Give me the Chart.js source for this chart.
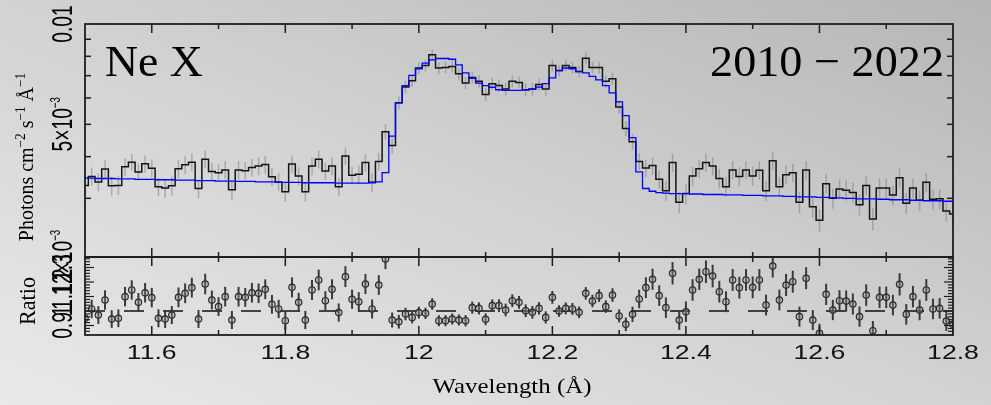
<!DOCTYPE html>
<html><head><meta charset="utf-8">
<script src="https://cdn.jsdelivr.net/npm/chart.js@4.4.1/dist/chart.umd.min.js"></script>
<style>
html,body{margin:0;padding:0;background:#d0d0d0;}
#wrap{position:relative;width:991px;height:405px;overflow:hidden;
 background:linear-gradient(to top right,#e9e9e9 0%,#d2d2d2 50%,#b5b5b5 100%);}
canvas{position:absolute;left:0;top:0;}
</style></head><body>
<div id="wrap"><canvas id="top" width="991" height="405"></canvas><canvas id="bot" width="991" height="405"></canvas></div>
<script>
// ---- data (flux in units of 1e-3 photons cm^-2 s^-1 A^-1) ----
const binStart = 11.50, binWidth = 0.01, nBins = 131;
const wavelengths = [];
for (let i = 0; i < nBins; i++) wavelengths.push(+(binStart + i * binWidth).toFixed(2));

const flux = [
 3.28,3.49,3.36,3.67,3.27,3.28,3.73,3.85,3.60,3.81,
 3.69,3.25,3.22,3.27,3.68,3.78,3.85,3.21,3.93,3.61,
 3.58,3.65,3.18,3.65,3.63,3.71,3.75,3.79,3.48,3.36,
 3.14,3.80,3.50,3.14,3.75,3.93,3.62,3.75,3.25,4.02,
 3.52,3.54,3.84,3.35,3.87,4.75,4.32,5.80,6.47,6.76,
 7.38,7.51,8.08,7.38,7.41,7.46,7.09,6.65,6.91,6.73,
 6.14,6.62,6.54,6.38,6.73,6.68,6.35,6.38,6.58,6.38,
 7.51,7.25,7.51,7.41,7.20,7.90,7.41,7.41,6.73,6.85,
 5.64,4.86,4.43,3.87,3.70,3.76,3.42,3.16,3.84,2.92,
 3.10,3.50,3.68,3.84,3.75,3.44,3.25,3.65,3.49,3.65,
 3.50,3.64,3.16,3.89,3.25,3.53,3.58,2.92,3.65,2.83,
 2.58,3.32,3.00,3.20,3.17,3.12,2.87,3.28,2.60,3.22,
 3.22,3.07,3.46,2.90,3.22,2.96,3.35,2.98,2.99,2.75,
 2.69];
const fluxErr = [
 0.22,0.22,0.21,0.23,0.21,0.21,0.23,0.23,0.22,0.23,
 0.23,0.21,0.21,0.21,0.23,0.23,0.23,0.21,0.24,0.22,
 0.22,0.23,0.21,0.23,0.22,0.23,0.23,0.23,0.22,0.21,
 0.21,0.23,0.22,0.21,0.23,0.24,0.22,0.23,0.21,0.24,
 0.22,0.22,0.23,0.22,0.23,0.25,0.24,0.27,0.28,0.29,
 0.30,0.30,0.31,0.30,0.30,0.30,0.29,0.28,0.29,0.28,
 0.27,0.28,0.28,0.28,0.28,0.28,0.28,0.28,0.28,0.28,
 0.30,0.29,0.30,0.30,0.29,0.31,0.30,0.30,0.28,0.29,
 0.26,0.25,0.24,0.23,0.23,0.23,0.22,0.22,0.24,0.21,
 0.22,0.23,0.23,0.24,0.24,0.23,0.22,0.23,0.23,0.23,
 0.23,0.23,0.22,0.24,0.22,0.23,0.23,0.21,0.23,0.21,
 0.20,0.22,0.21,0.22,0.22,0.22,0.21,0.22,0.20,0.22,
 0.22,0.21,0.23,0.21,0.22,0.21,0.22,0.21,0.21,0.20,
 0.20];
const model = [
 3.45,3.45,3.44,3.44,3.44,3.43,3.43,3.43,3.42,3.42,
 3.42,3.41,3.41,3.41,3.40,3.40,3.40,3.39,3.39,3.39,
 3.38,3.38,3.38,3.37,3.37,3.37,3.36,3.36,3.36,3.35,
 3.35,3.35,3.35,3.34,3.34,3.34,3.34,3.34,3.33,3.33,
 3.33,3.33,3.33,3.34,3.36,3.58,4.61,5.80,6.53,7.01,
 7.34,7.63,7.81,7.88,7.88,7.84,7.54,7.13,6.87,6.65,
 6.53,6.46,6.35,6.32,6.32,6.32,6.35,6.38,6.47,6.62,
 6.89,7.25,7.38,7.34,7.20,7.13,6.96,6.80,6.53,6.21,
 5.84,5.31,4.56,3.60,3.21,3.15,3.12,3.11,3.10,3.10,
 3.10,3.09,3.09,3.08,3.08,3.08,3.07,3.07,3.07,3.06,
 3.06,3.06,3.05,3.05,3.05,3.04,3.04,3.03,3.03,3.03,
 3.02,3.02,3.01,3.01,3.00,3.00,2.99,2.99,2.99,2.98,
 2.98,2.97,2.97,2.97,2.96,2.96,2.95,2.95,2.95,2.94,
 2.94];
const ratio = [
 0.950,1.014,0.972,1.076,0.945,0.950,1.099,1.145,1.060,1.126,
 1.092,0.950,0.945,0.972,1.094,1.122,1.161,0.945,1.186,1.076,
 1.030,1.099,0.938,1.099,1.094,1.126,1.122,1.150,1.046,1.014,
 0.933,1.163,1.060,0.938,1.145,1.214,1.071,1.150,0.989,1.237,
 1.081,1.064,1.186,1.014,1.179,1.359,0.938,0.926,0.979,0.956,
 0.989,0.984,1.048,0.933,0.933,0.945,0.938,0.933,1.023,1.018,
 0.943,1.037,1.037,1.007,1.071,1.060,1.002,0.991,1.018,0.956,
 1.094,1.000,1.018,1.014,0.991,1.122,1.069,1.106,1.030,1.110,
 0.966,0.908,0.977,1.083,1.161,1.219,1.106,1.023,1.260,0.938,
 0.995,1.145,1.219,1.271,1.241,1.133,1.064,1.214,1.161,1.214,
 1.163,1.214,1.041,1.310,1.076,1.179,1.202,0.961,1.226,0.938,
 0.846,1.115,1.007,1.071,1.069,1.048,0.961,1.110,0.864,1.094,
 1.094,1.041,1.184,0.977,1.099,1.007,1.145,1.014,1.018,0.931,
 0.908];
const ratioErr = [
 0.064,0.064,0.061,0.067,0.061,0.061,0.067,0.067,0.064,0.067,
 0.067,0.062,0.062,0.062,0.068,0.068,0.068,0.062,0.071,0.065,
 0.065,0.068,0.062,0.068,0.065,0.068,0.068,0.068,0.065,0.063,
 0.063,0.069,0.066,0.063,0.069,0.072,0.066,0.069,0.063,0.072,
 0.066,0.066,0.069,0.066,0.068,0.070,0.052,0.047,0.043,0.041,
 0.041,0.039,0.040,0.038,0.038,0.038,0.038,0.039,0.042,0.042,
 0.041,0.043,0.044,0.044,0.044,0.044,0.044,0.044,0.043,0.042,
 0.044,0.040,0.041,0.041,0.040,0.043,0.043,0.044,0.043,0.047,
 0.045,0.047,0.053,0.064,0.072,0.073,0.071,0.071,0.077,0.068,
 0.071,0.074,0.074,0.078,0.078,0.075,0.072,0.075,0.075,0.075,
 0.075,0.075,0.072,0.079,0.072,0.076,0.076,0.069,0.076,0.069,
 0.066,0.073,0.070,0.073,0.073,0.073,0.070,0.074,0.067,0.074,
 0.074,0.071,0.077,0.071,0.074,0.071,0.075,0.071,0.071,0.068,
 0.068];

// axis ticks / labels
const xTickValues = [11.5,11.6,11.7,11.8,11.9,12.0,12.1,12.2,12.3,12.4,12.5,12.6,12.7,12.8];
const xTickLabels = [['11.6',11.6],['11.8',11.8],['12',12.0],['12.2',12.2],['12.4',12.4],['12.6',12.6],['12.8',12.8]];
const yFluxMinor = [3,4,5,6,7,8,9];
const ratioLabels = [['0.9',0.9],['1',1.0],['1.1',1.1],['1.2',1.2],['1.3',1.3]];

// ---- drawing helpers ----
const SANS = '"Liberation Sans", Arial, sans-serif';
const SERIF = '"Liberation Serif", "Times New Roman", serif';

function richWidth(ctx, parts) {
  let w = 0;
  for (const p of parts) { ctx.font = p.f; w += ctx.measureText(p.t).width; }
  return w;
}
function drawRich(ctx, parts, x0) {
  let x = x0;
  for (const p of parts) {
    ctx.font = p.f;
    ctx.fillText(p.t, x, p.dy || 0);
    x += ctx.measureText(p.t).width;
  }
}
// rotated (-90deg) rich text centered at screen y = cy, baseline at screen x = bx, stretched along reading by s
function rotRich(ctx, parts, bx, cy, s) {
  ctx.save();
  ctx.translate(bx, cy);
  ctx.rotate(-Math.PI / 2);
  ctx.scale(s, 1);
  ctx.textAlign = 'left';
  ctx.textBaseline = 'alphabetic';
  const w = richWidth(ctx, parts);
  drawRich(ctx, parts, -w / 2);
  ctx.restore();
}
function hText(ctx, s, x, y, font, align, sx) {
  ctx.save();
  ctx.translate(x, y);
  ctx.scale(sx, 1);
  ctx.font = font;
  ctx.textAlign = align;
  ctx.textBaseline = 'alphabetic';
  ctx.fillText(s, 0, 0);
  ctx.restore();
}
function line(ctx, x1, y1, x2, y2) {
  ctx.beginPath(); ctx.moveTo(x1, y1); ctx.lineTo(x2, y2); ctx.stroke();
}
function xTicks(ctx, xs, a, yEdge, dir) {
  for (const v of xTickValues) {
    const px = xs.getPixelForValue(v);
    if (px <= a.left + 1 || px >= a.right - 1) continue;
    const major = Math.abs(Math.round(v * 10) % 2) === 0;
    const len = major ? 9 : 5;
    line(ctx, px, yEdge, px, yEdge + dir * len);
  }
}

// ---- top panel plugin ----
const topDeco = {
  id: 'topDeco',
  beforeDatasetsDraw(chart) {
    const {ctx, chartArea: a, scales: {x, y}} = chart;
    ctx.save();
    ctx.beginPath(); ctx.rect(a.left, a.top, a.right - a.left, a.bottom - a.top); ctx.clip();
    ctx.strokeStyle = 'rgba(125,125,125,0.5)';
    ctx.lineWidth = 1.5;
    for (let i = 0; i < nBins; i++) {
      const px = x.getPixelForValue(wavelengths[i]);
      line(ctx, px, y.getPixelForValue(flux[i] - fluxErr[i]), px, y.getPixelForValue(flux[i] + fluxErr[i]));
    }
    ctx.restore();
  },
  afterDraw(chart) {
    const {ctx, chartArea: a, scales: {x, y}} = chart;
    ctx.save();
    ctx.strokeStyle = '#1e1e1e';
    ctx.lineWidth = 1.8;
    ctx.strokeRect(a.left, a.top, a.right - a.left, a.bottom - a.top);
    ctx.lineWidth = 1.5;
    xTicks(ctx, x, a, a.top, 1);
    xTicks(ctx, x, a, a.bottom, -1);
    for (const v of yFluxMinor) {
      const py = y.getPixelForValue(v);
      line(ctx, a.left, py, a.left + 6, py);
      line(ctx, a.right, py, a.right - 6, py);
    }
    ctx.fillStyle = '#000';
    // panel annotations
    hText(ctx, 'Ne X', 105, 76, '44px ' + SERIF, 'left', 1.04);
    hText(ctx, '2010 \u2212 2022', 944, 76, '44px ' + SERIF, 'right', 1.05);
    // y tick labels
    const tf = '30px ' + SANS, sf = '15px ' + SANS;
    rotRich(ctx, [{t: '0.01', f: tf}], 72, y.getPixelForValue(10), 0.64);
    rotRich(ctx, [{t: '5\u00d710', f: tf}, {t: '\u22123', f: sf, dy: -12}], 72, y.getPixelForValue(5), 0.64);
    rotRich(ctx, [{t: '2\u00d710', f: tf}, {t: '\u22123', f: sf, dy: -12}], 72, y.getPixelForValue(2), 0.64);
    // y title
    const mf = '21px ' + SERIF, pf = '14px ' + SERIF;
    rotRich(ctx, [
      {t: 'Photons cm', f: mf}, {t: '\u22122', f: pf, dy: -8},
      {t: ' s', f: mf}, {t: '\u22121', f: pf, dy: -8},
      {t: ' \u00c5', f: mf}, {t: '\u22121', f: pf, dy: -8}
    ], 33, 157, 0.95);
    ctx.restore();
  }
};

// ---- ratio panel plugin ----
const botDeco = {
  id: 'botDeco',
  beforeDatasetsDraw(chart) {
    const {ctx, chartArea: a, scales: {x, y}} = chart;
    ctx.save();
    ctx.beginPath(); ctx.rect(a.left, a.top, a.right - a.left, a.bottom - a.top); ctx.clip();
    // unity line
    ctx.strokeStyle = '#111';
    ctx.lineWidth = 1.5;
    ctx.setLineDash([20, 19]);
    const p1 = y.getPixelForValue(1);
    line(ctx, a.left, p1, a.right, p1);
    ctx.setLineDash([]);
    // error bars
    ctx.strokeStyle = '#3a3a3a';
    ctx.lineWidth = 2;
    for (let i = 0; i < nBins; i++) {
      const px = x.getPixelForValue(wavelengths[i]);
      line(ctx, px, y.getPixelForValue(ratio[i] - ratioErr[i]), px, y.getPixelForValue(ratio[i] + ratioErr[i]));
    }
    ctx.restore();
  },
  afterDraw(chart) {
    const {ctx, chartArea: a, scales: {x, y}} = chart;
    ctx.save();
    ctx.strokeStyle = '#1e1e1e';
    ctx.lineWidth = 1.8;
    ctx.strokeRect(a.left, a.top, a.right - a.left, a.bottom - a.top);
    ctx.lineWidth = 1.5;
    xTicks(ctx, x, a, a.top, 1);
    xTicks(ctx, x, a, a.bottom, -1);
    ctx.lineWidth = 1.2;
    for (let k = 42; k <= 68; k++) {
      const v = k / 50;
      const py = y.getPixelForValue(v);
      if (py <= a.top + 1 || py >= a.bottom - 1) continue;
      const len = (k % 5 === 0) ? 9 : 5;
      line(ctx, a.left, py, a.left + len, py);
      line(ctx, a.right, py, a.right - len, py);
    }
    ctx.fillStyle = '#000';
    // ratio tick labels (crowded, as in original)
    for (const [s, v] of ratioLabels) {
      rotRich(ctx, [{t: s, f: '30px ' + SANS}], 72, y.getPixelForValue(v), 0.64);
    }
    // x tick labels
    ctx.fillStyle = '#111';
    for (const [s, v] of xTickLabels) {
      hText(ctx, s, x.getPixelForValue(v), 359, '20px ' + SANS, 'center', 1.33);
    }
    // titles
    ctx.fillStyle = '#000';
    hText(ctx, 'Wavelength (\u00c5)', 512, 393, '22px ' + SERIF, 'center', 1.13);
    rotRich(ctx, [{t: 'Ratio', f: '24px ' + SERIF}], 35, 301, 0.92);
    ctx.restore();
  }
};

const common = {
  responsive: false, animation: false, devicePixelRatio: 1, events: [],
  plugins: {legend: {display: false}, tooltip: {enabled: false}}
};

new Chart(document.getElementById('top'), {
  type: 'line',
  data: {datasets: [
    {label: 'model', data: wavelengths.map((w, i) => ({x: w, y: model[i]})), stepped: 'middle',
     borderColor: '#0000ff', borderWidth: 1.3, pointRadius: 0, fill: false},
    {label: 'data', data: wavelengths.map((w, i) => ({x: w, y: flux[i]})), stepped: 'middle',
     borderColor: '#141414', borderWidth: 1.5, pointRadius: 0, fill: false}
  ]},
  options: Object.assign({}, common, {
    layout: {padding: {left: 85, right: 38, top: 24, bottom: 148}},
    scales: {
      x: {type: 'linear', min: 11.5, max: 12.8, display: false},
      y: {type: 'logarithmic', min: 2, max: 10, display: false}
    }
  }),
  plugins: [topDeco]
});

new Chart(document.getElementById('bot'), {
  type: 'scatter',
  data: {datasets: [
    {label: 'ratio', data: wavelengths.map((w, i) => ({x: w, y: ratio[i]})),
     pointRadius: 3.2, pointStyle: 'circle', pointBorderColor: '#2a2a2a', pointBorderWidth: 1.2,
     pointBackgroundColor: 'rgba(150,150,150,0.35)'}
  ]},
  options: Object.assign({}, common, {
    layout: {padding: {left: 85, right: 38, top: 257, bottom: 70}},
    scales: {
      x: {type: 'linear', min: 11.5, max: 12.8, display: false},
      y: {type: 'linear', min: 0.8345, max: 1.3724, display: false}
    }
  }),
  plugins: [botDeco]
});
</script>
</body></html>
